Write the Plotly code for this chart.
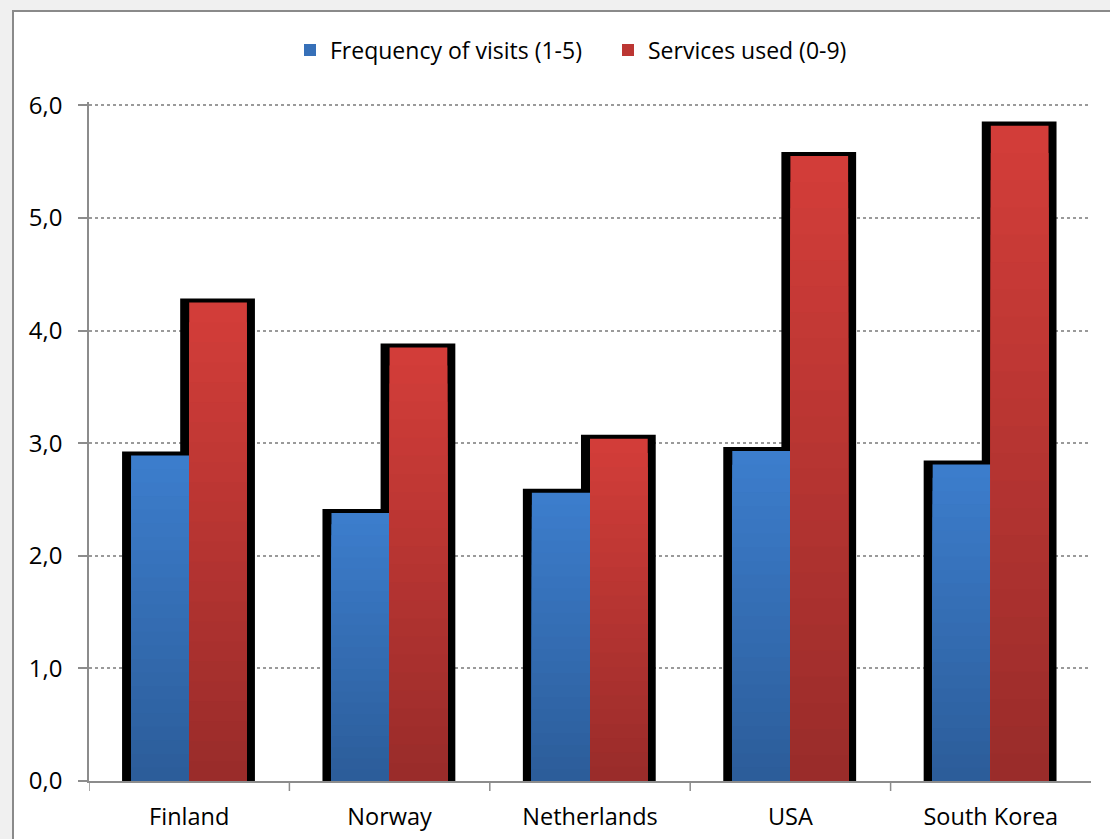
import plotly.graph_objects as go

categories = ["Finland", "Norway", "Netherlands", "USA", "South Korea"]
freq_visits = [2.89, 2.38, 2.56, 2.93, 2.81]
services_used = [4.25, 3.85, 3.04, 5.55, 5.82]
series_names = ["Frequency of visits (1-5)", "Services used (0-9)"]
y_ticks = [0, 1, 2, 3, 4, 5, 6]
y_tick_labels = ["0,0", "1,0", "2,0", "3,0", "4,0", "5,0", "6,0"]

FONT = "Open Sans"
N = 24

def lerp(c1, c2, t):
    return "#%02x%02x%02x" % tuple(round(a + (b - a) * t) for a, b in zip(c1, c2))

series = [
    dict(name=series_names[0], y=freq_visits, offset=-0.29, width=0.29,
         top=(0x3c, 0x7d, 0xcc), bottom=(0x2c, 0x5d, 0x9a)),
    dict(name=series_names[1], y=services_used, offset=0.0, width=0.288,
         top=(0xd2, 0x3d, 0x39), bottom=(0x9a, 0x2c, 0x2a)),
]

fig = go.Figure()
x_idx = list(range(len(categories)))

# black shadow behind each bar
for s in series:
    fig.add_trace(go.Bar(
        x=x_idx, y=[v + 0.036 for v in s["y"]],
        offset=s["offset"] - 0.045, width=s["width"] + 0.085,
        marker=dict(color="black", line=dict(width=0)),
        showlegend=False, hoverinfo="skip"))

# gradient bars: nested bars, lighter (top) first, darker shorter ones on top
for s in series:
    for k in range(N):
        frac = 1 - k / N
        t = k / (N - 1)
        fig.add_trace(go.Bar(
            x=x_idx, y=[v * frac for v in s["y"]],
            offset=s["offset"], width=s["width"],
            marker=dict(color=lerp(s["top"], s["bottom"], t), line=dict(width=0)),
            name=s["name"], showlegend=False, hoverinfo="skip"))
    fig.add_trace(go.Bar(
        x=[None], y=[None], name=s["name"],
        marker=dict(color=lerp(s["top"], s["bottom"], 0.4), line=dict(width=0)),
        showlegend=True))

Y_MAX = 6.03
T_MARGIN = 102
B_MARGIN = 58
PLOT_H = 839 - T_MARGIN - B_MARGIN
Y_BOTTOM = 839 - B_MARGIN

fig.update_layout(
    width=1110, height=839,
    barmode="overlay",
    paper_bgcolor="#f0f0f0",
    plot_bgcolor="white",
    margin=dict(l=89, r=19, t=T_MARGIN, b=B_MARGIN, autoexpand=False),
    font=dict(family=FONT, size=23, color="black"),
    showlegend=True,
    legend=dict(orientation="h", x=(608 - 89) / 1002, xanchor="center",
                y=(Y_BOTTOM - 50) / PLOT_H, yanchor="middle",
                bgcolor="rgba(0,0,0,0)", font=dict(size=23, family=FONT),
                traceorder="normal", itemwidth=30, entrywidth=273),
    xaxis=dict(
        tickmode="array", tickvals=x_idx, ticktext=categories,
        range=[-0.5, len(categories) - 0.5],
        showgrid=False, showline=True, linecolor="#8c8c8c", linewidth=1.5,
        ticks="", ticklen=0, zeroline=False,
        tickfont=dict(size=23.5, family=FONT), ticklabelstandoff=14,
    ),
    yaxis=dict(
        range=[0, Y_MAX], tickmode="array", tickvals=y_ticks, ticktext=y_tick_labels,
        showgrid=True, gridcolor="#9a9a9a", griddash="dot", gridwidth=1.5,
        showline=True, linecolor="#8c8c8c", linewidth=1.5,
        ticks="outside", ticklen=9, tickcolor="#8c8c8c", tickwidth=1.5,
        zeroline=False, tickfont=dict(size=24, family=FONT), ticklabelstandoff=11,
    ),
)

# chart frame (white panel with gray border extending past right/bottom)
fig.add_shape(type="rect", xref="paper", yref="paper",
              x0=-76 / 1002, x1=1.2, y0=-0.2, y1=(Y_BOTTOM - 11) / PLOT_H,
              line=dict(color="#8a8a8a", width=2), fillcolor="white", layer="below")

# category boundary tick marks on x axis
for b in range(0, len(categories)):
    fig.add_shape(type="line", xref="x", yref="y domain",
                  x0=b - 0.5, x1=b - 0.5, y0=0, y1=-10 / PLOT_H,
                  line=dict(color="#8c8c8c", width=1.5))

fig.write_html("out.html")
